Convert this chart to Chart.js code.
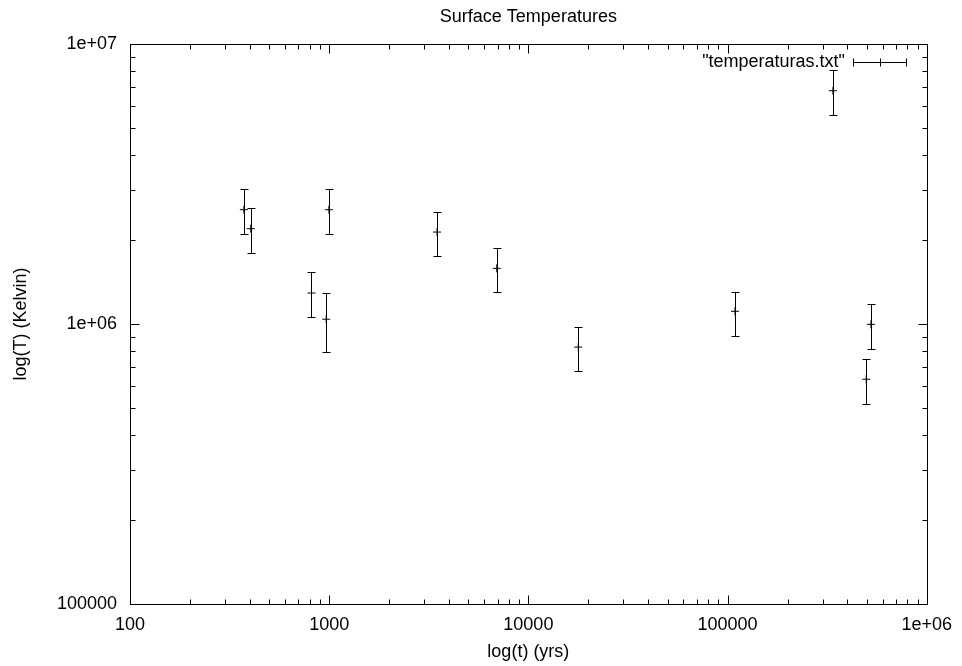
<!DOCTYPE html>
<html>
<head>
<meta charset="utf-8">
<script src="https://cdn.jsdelivr.net/npm/chart.js@4.4.1/dist/chart.umd.min.js"></script>
<style>
  body { margin: 0; background: #fff; }
  canvas { display: block; }
</style>
</head>
<body>
<canvas id="grafik" width="962" height="666"></canvas>
<script>
// ages (yrs) and surface temperatures (K) with error bar ends
const ages = [373, 404, 997, 815, 966, 3480, 6940, 17800, 109000, 525000, 497000, 338000];
const temps = [2.56e6, 2.19e6, 2.56e6, 1.29e6, 1.04e6, 2.13e6, 1.58e6, 8.27e5, 1.11e6, 9.97e5, 6.35e5, 6.81e6];
const tempLow = [2.10e6, 1.80e6, 2.10e6, 1.06e6, 7.96e5, 1.75e6, 1.30e6, 6.78e5, 9.06e5, 8.16e5, 5.18e5, 5.58e6];
const tempHigh = [3.03e6, 2.59e6, 3.03e6, 1.53e6, 1.29e6, 2.52e6, 1.87e6, 9.78e5, 1.30e6, 1.18e6, 7.48e5, 8.07e6];

const xTickValues = [100, 1000, 10000, 100000, 1000000];
const xTickLabels = ["100", "1000", "10000", "100000", "1e+06"];
const yTickValues = [100000, 1000000, 10000000];
const yTickLabels = ["100000", "1e+06", "1e+07"];

const FONT = "'Liberation Sans', Arial, Helvetica, sans-serif";
const FS = 18;

// error bars, frame, inward ticks, legend
const gnuplotStil = {
  id: "gnuplotStil",
  afterDatasetsDraw(chart) {
    const { ctx, chartArea: a, scales: { x, y } } = chart;
    ctx.save();
    ctx.strokeStyle = "#000";
    ctx.lineWidth = 1;

    // error bars
    ages.forEach((age, i) => {
      const px = Math.round(x.getPixelForValue(age)) + 0.5;
      const lo = Math.round(y.getPixelForValue(tempLow[i])) + 0.5;
      const hi = Math.round(y.getPixelForValue(tempHigh[i])) + 0.5;
      ctx.beginPath();
      ctx.moveTo(px, lo); ctx.lineTo(px, hi);
      ctx.moveTo(px - 4, lo); ctx.lineTo(px + 4, lo);
      ctx.moveTo(px - 4, hi); ctx.lineTo(px + 4, hi);
      ctx.stroke();
    });

    // frame
    const L = Math.round(a.left) + 0.5, R = Math.round(a.right) + 0.5;
    const T = Math.round(a.top) + 0.5, B = Math.round(a.bottom) + 0.5;
    ctx.strokeRect(L, T, R - L, B - T);

    // ticks
    ctx.beginPath();
    const tickX = (v, len) => {
      const p = Math.round(x.getPixelForValue(v)) + 0.5;
      ctx.moveTo(p, B); ctx.lineTo(p, B - len);
      ctx.moveTo(p, T); ctx.lineTo(p, T + len);
    };
    const tickY = (v, len) => {
      const p = Math.round(y.getPixelForValue(v)) + 0.5;
      ctx.moveTo(L, p); ctx.lineTo(L + len, p);
      ctx.moveTo(R, p); ctx.lineTo(R - len, p);
    };
    for (let d = x.min; d < x.max; d *= 10) {
      tickX(d, 9);
      for (let m = 2; m < 10; m++) tickX(d * m, 5);
    }
    tickX(x.max, 9);
    for (let d = y.min; d < y.max; d *= 10) {
      tickY(d, 9);
      for (let m = 2; m < 10; m++) tickY(d * m, 5);
    }
    tickY(y.max, 9);
    ctx.stroke();

    // legend
    const ly = 62.5;
    ctx.font = FS + "px " + FONT;
    ctx.fillStyle = "#000";
    ctx.textAlign = "right";
    ctx.textBaseline = "middle";
    ctx.fillText('"temperaturas.txt"', 845, ly);
    ctx.beginPath();
    ctx.moveTo(853, ly); ctx.lineTo(907, ly);
    ctx.moveTo(853.5, ly - 4); ctx.lineTo(853.5, ly + 4);
    ctx.moveTo(906.5, ly - 4); ctx.lineTo(906.5, ly + 4);
    ctx.moveTo(880.5, ly - 4); ctx.lineTo(880.5, ly + 4);
    ctx.stroke();
    ctx.restore();
  }
};

new Chart(document.getElementById("grafik"), {
  type: "scatter",
  data: {
    datasets: [{
      label: '"temperaturas.txt"',
      data: ages.map((a, i) => ({ x: a, y: temps[i] })),
      pointStyle: "cross",
      pointRadius: 4,
      pointBorderWidth: 1,
      borderColor: "#000",
      backgroundColor: "#000"
    }]
  },
  options: {
    responsive: false,
    animation: false,
    layout: { padding: { top: 0, left: 0, right: 33, bottom: 0 } },
    plugins: {
      legend: { display: false },
      tooltip: { enabled: false },
      title: {
        display: true,
        text: "Surface Temperatures",
        color: "#000",
        fullSize: false,
        font: { family: FONT, size: FS, weight: "normal" },
        padding: { top: 6, bottom: 16.4 }
      }
    },
    scales: {
      x: {
        type: "logarithmic",
        min: 100,
        max: 1000000,
        afterBuildTicks: s => { s.ticks = xTickValues.map(v => ({ value: v })); },
        afterFit: s => { s.height = 62; },
        grid: { display: false, drawTicks: false },
        border: { display: false },
        ticks: {
          color: "#000",
          padding: 10,
          maxRotation: 0,
          autoSkip: false,
          font: { family: FONT, size: FS },
          callback: (v, i) => xTickLabels[i]
        },
        title: {
          display: true,
          text: "log(t) (yrs)",
          color: "#000",
          font: { family: FONT, size: FS },
          padding: { top: 0, bottom: 3 }
        }
      },
      y: {
        type: "logarithmic",
        min: 100000,
        max: 10000000,
        afterBuildTicks: s => { s.ticks = yTickValues.map(v => ({ value: v })); },
        afterFit: s => { s.width = 130; },
        grid: { display: false, drawTicks: false },
        border: { display: false },
        ticks: {
          color: "#000",
          padding: 13,
          autoSkip: false,
          font: { family: FONT, size: FS },
          callback: (v, i) => yTickLabels[i]
        },
        title: {
          display: true,
          text: "log(T) (Kelvin)",
          color: "#000",
          font: { family: FONT, size: FS },
          padding: { top: 10, bottom: 0 }
        }
      }
    }
  },
  plugins: [gnuplotStil]
});
</script>
</body>
</html>
